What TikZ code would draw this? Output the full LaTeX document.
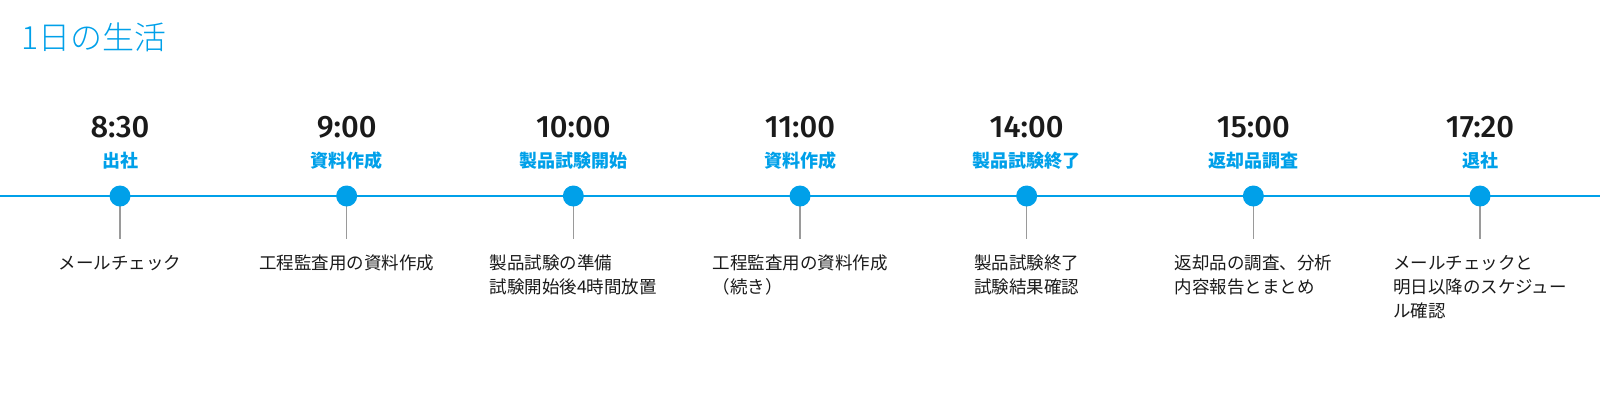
\documentclass[tikz,border=0pt]{standalone}
\usepackage{fontspec}
\setmainfont{Noto Sans CJK JP}
\newfontfamily\timefont{Fira Sans}[UprightFont={* Medium}]
\newfontfamily\titlefont{Noto Sans CJK JP}[UprightFont={* Light}]
\definecolor{accent}{HTML}{00A0E9}
\definecolor{stem}{HTML}{9A9A9A}
\definecolor{ink}{HTML}{1A1A1A}
\begin{document}
\begin{tikzpicture}[x=1pt,y=-1pt,
  timelbl/.style={anchor=base,inner sep=0pt,text=ink,font=\timefont\fontsize{31}{33}\selectfont},
  eventlbl/.style={anchor=base,inner sep=0pt,text=accent,font=\fontsize{18}{20}\selectfont\bfseries},
  desclbl/.style={anchor=north,inner sep=0pt,text=ink,align=left,font=\fontsize{17.5}{24}\selectfont},
  dotnode/.style={circle,fill=accent,inner sep=0pt,minimum size=21pt},
  stemline/.style={draw=stem,line width=1.5pt},
  axisline/.style={draw=accent,line width=2pt}]
\useasboundingbox (0,0) rectangle (1600,400);
\node[anchor=base west,inner sep=0pt,text=accent,font=\titlefont\fontsize{32}{34}\selectfont] (title) at (21,49) {1日の生活};
\coordinate (L) at (0,196);
\coordinate (R) at (1600,196);
\draw[axisline] (L) -- (R);
\foreach \i/\t/\e/\d in {
  0/8:30/出社/メールチェック,
  1/9:00/資料作成/工程監査用の資料作成,
  2/10:00/製品試験開始/{製品試験の準備\\試験開始後4時間放置},
  3/11:00/資料作成/{工程監査用の資料作成\\（続き）},
  4/14:00/製品試験終了/{製品試験終了\\試験結果確認},
  5/15:00/返却品調査/{返却品の調査、分析\\内容報告とまとめ},
  6/17:20/退社/{メールチェックと\\明日以降のスケジュー\\ル確認}}{
  \pgfmathsetmacro{\xx}{120+226.67*\i}
  \node[timelbl] (t\i) at (\xx,137) {\t};
  \node[eventlbl] (e\i) at (\xx,167) {\e};
  \coordinate (s\i) at (\xx,239);
  \draw[stemline] (\xx,196) -- (s\i);
  \node[dotnode] (p\i) at (\xx,196) {};
  \node[desclbl] (d\i) at (\xx,255) {\d};
}
\end{tikzpicture}
\end{document}
